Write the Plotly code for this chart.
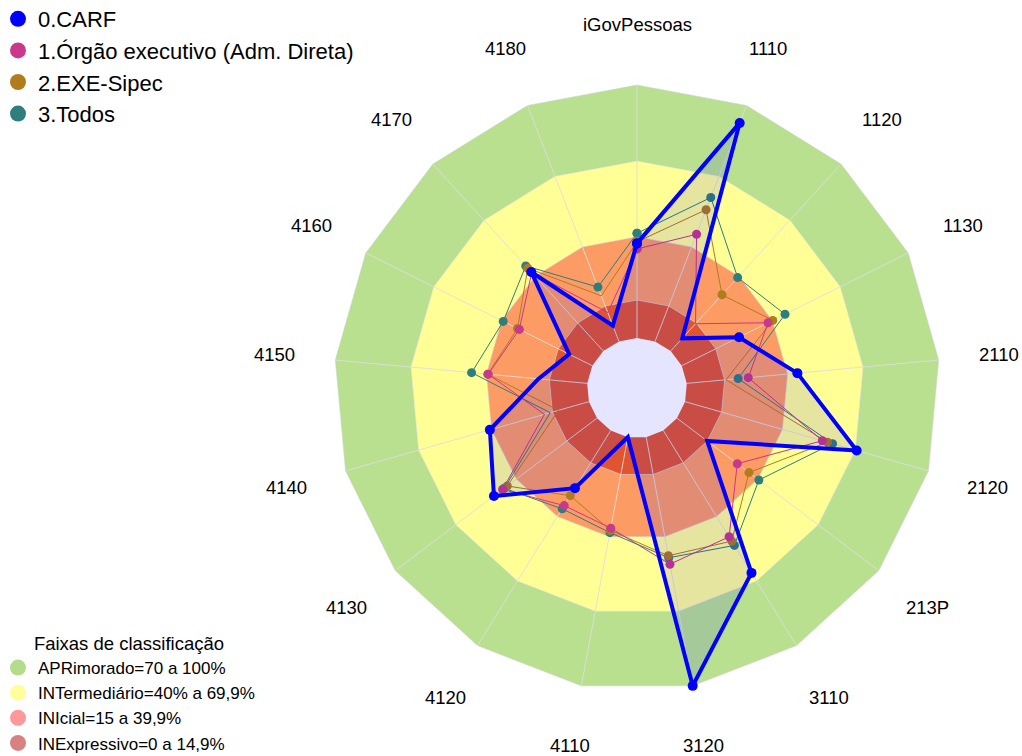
import math
import plotly.graph_objects as go

categories = ["iGovPessoas", "1110", "1120", "1130", "2110", "2120", "213P", "3110",
              "3120", "4110", "4120", "4130", "4140", "4150", "4160", "4170", "4180"]

series_names = ["0.CARF", "1.Órgão executivo (Adm. Direta)", "2.EXE-Sipec", "3.Todos"]
carf = [37.4, 92.6, 6.8, 25.3, 43.9, 70.5, 15.0, 66.2, 100.0, 0.0, 26.8, 51.1, 40.7, 19.4, 10.2, 42.3, 6.7]
orgao = [35.2, 45.4, 14.6, 38.1, 24.4, 56.4, 29.9, 49.4, 51.1, 36.6, 34.9, 46.8, 18.3, 39.3, 32.2, 42.0, 12.2]
sipec = [38.0, 55.8, 30.1, 40.2, 15.6, 58.5, 35.7, 51.4, 47.7, 37.5, 30.3, 44.5, 12.5, 39.5, 33.0, 44.3, 19.3]
todos = [41.4, 61.0, 39.3, 45.6, 20.4, 60.6, 40.6, 53.4, 48.5, 38.4, 36.4, 46.0, 15.9, 45.9, 39.3, 45.5, 23.0]

band_names = ["APRimorado=70 a 100%", "INTermediário=40% a 69,9%",
              "INIcial=15 a 39,9%", "INExpressivo=0 a 14,9%"]
band_upper = [100, 70, 40, 15]
band_lower = [70, 40, 15, 0]

series_colors = ["#0000FF", "#C9388A", "#B07C1E", "#2E7E7E"]
band_colors = ["#B8E08E", "#FFFF96", "#FC9C64", "#E05530"]
band_legend_colors = ["#B5DC8B", "#FFFF99", "#FF9999", "#D98080"]

FONT = "Liberation Sans, Arial, sans-serif"
W, H = 1022, 756


def closed(vals):
    return list(vals) + [vals[0]]


theta_closed = closed(categories)
n = len(categories)

fig = go.Figure()

# classification bands: polygon rings (outer polygon, then inner polygon reversed)
inner_theta = [categories[0]] + categories[:0:-1] + [categories[0]]
for name, up, lo, col in zip(band_names, band_upper, band_lower, band_colors):
    fig.add_trace(go.Scatterpolar(
        r=[up] * (n + 1) + [lo] * (n + 1), theta=theta_closed + inner_theta,
        mode="lines", fill="toself", fillcolor=col,
        line=dict(width=0, color=col),
        showlegend=False, hoverinfo="skip"))

# band outlines
for up in band_upper:
    fig.add_trace(go.Scatterpolar(
        r=closed([up] * n), theta=theta_closed, mode="lines",
        line=dict(color="rgba(210,210,215,0.55)", width=1),
        showlegend=False, hoverinfo="skip"))

# spokes drawn over the bands
spoke_r, spoke_t = [], []
for c in categories:
    spoke_r += [0, band_upper[0], None]
    spoke_t += [c, c, None]
fig.add_trace(go.Scatterpolar(
    r=spoke_r, theta=spoke_t, mode="lines",
    line=dict(color="rgba(222,222,222,0.9)", width=1),
    showlegend=False, hoverinfo="skip"))

# series (CARF drawn last, on top)
series_vals = [carf, orgao, sipec, todos]
for i in [3, 2, 1]:
    fig.add_trace(go.Scatterpolar(
        r=closed(series_vals[i]), theta=theta_closed, mode="lines+markers",
        line=dict(color=series_colors[i], width=1),
        marker=dict(color=series_colors[i], size=9),
        cliponaxis=False, showlegend=False, name=series_names[i]))
fig.add_trace(go.Scatterpolar(
    r=closed(carf), theta=theta_closed, mode="lines+markers",
    fill="toself", fillcolor="rgba(0,0,255,0.1)",
    line=dict(color=series_colors[0], width=4),
    marker=dict(color=series_colors[0], size=10),
    cliponaxis=False, showlegend=False, name=series_names[0]))

# legend entries
for name, col in zip(series_names, series_colors):
    fig.add_trace(go.Scatterpolar(
        r=[None], theta=[categories[0]], mode="markers", name=name,
        marker=dict(color=col, size=20), legend="legend"))
for name, col in zip(band_names, band_legend_colors):
    fig.add_trace(go.Scatterpolar(
        r=[None], theta=[categories[0]], mode="markers", name=name,
        marker=dict(color=col, size=16), legend="legend2"))

# polar geometry (pixels): centre (637, 388), hole radius 50, value 100 at radius 303
P = 344
cx, cy = 637, 388
px_per_unit = (303 - 50) / 100
label_radius = 364

# category labels centred on a ring around the chart
annotations = []
for k, c in enumerate(categories):
    ang = 2 * math.pi * k / n
    annotations.append(dict(
        text=c, xref="paper", yref="paper",
        x=(cx + label_radius * math.sin(ang)) / W,
        y=1 - (cy - label_radius * math.cos(ang)) / H,
        xanchor="center", yanchor="middle", showarrow=False,
        font=dict(size=18.5, color="black", family=FONT)))

fig.update_layout(
    width=W, height=H,
    margin=dict(l=0, r=0, t=0, b=0, autoexpand=False),
    paper_bgcolor="white",
    font=dict(family=FONT, color="black"),
    annotations=annotations,
    polar=dict(
        domain=dict(x=[(cx - P) / W, (cx + P) / W],
                    y=[(H - cy - P) / H, (H - cy + P) / H]),
        gridshape="linear",
        bgcolor="white",
        radialaxis=dict(visible=False,
                        range=[-50 / px_per_unit, (P - 50) / px_per_unit]),
        angularaxis=dict(rotation=90, direction="clockwise", showgrid=False,
                         showline=False, ticks="", showticklabels=False),
    ),
    legend=dict(x=-2 / W, y=1 + 2 / H, xanchor="left", yanchor="top",
                font=dict(size=22, family=FONT), bgcolor="rgba(0,0,0,0)",
                itemsizing="trace"),
    legend2=dict(x=-2 / W, y=1 - 626 / H, xanchor="left", yanchor="top",
                 title=dict(text="Faixas de classificação", side="top center",
                            font=dict(size=18.5, family=FONT)),
                 font=dict(size=17, family=FONT), bgcolor="rgba(0,0,0,0)"),
)

fig.write_html("out.html",
               config={"displayModeBar": False},
               post_script="document.body.style.margin='0';"
                           "document.body.style.overflow='hidden';")
